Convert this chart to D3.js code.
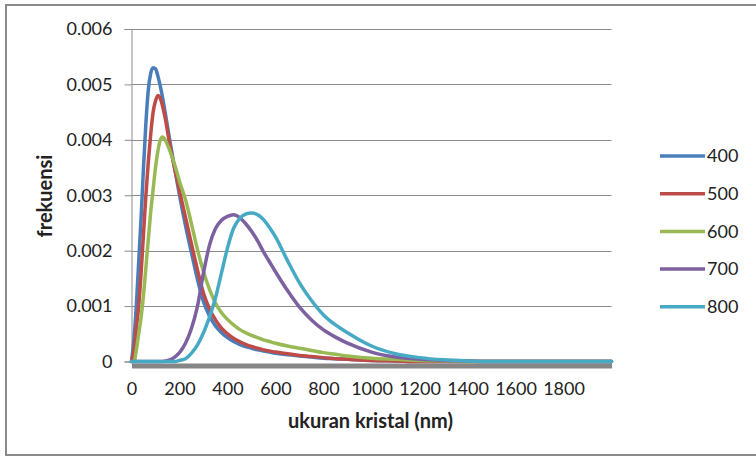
<!DOCTYPE html>
<html>
<head>
<meta charset="utf-8">
<script src="https://cdn.jsdelivr.net/npm/d3@7"></script>
<style>
  body { margin: 0; background: #ffffff; }
  svg { display: block; }
  text { font-family: Lato, "Open Sans", sans-serif; fill: #222; }
</style>
</head>
<body>
<svg id="chart" width="756" height="457"></svg>
<script>
// Crystal size grid (nm)
const sizes = [0,10,20,30,40,50,60,70,80,90,100,110,120,130,140,160,180,200,
  225,250,275,300,325,350,375,400,425,450,475,500,525,550,575,600,
  650,700,750,800,850,900,1000,1100,1200,1300,1400,1500,1600,1700,1800,1900,2000];

// Frequency per size for each series
const freq400 = [0,.0004,.001,.0018,.0026,.0035,.0043,.0049,.0052,.0053,.00528,.00515,.00497,.00475,.0045,
  .00398,.00348,.003,
  .00245,.00196,.00148,.00108,.00082,.00064,.00052,.00043,.00036,.00031,.00027,.00024,.00021,.00019,.00017,.00015,
  .00012,.0001,.00008,.00006,.00005,.00004,
  .00002,.00001,0,0,0,0,0,0,0,0,0];
const freq500 = [0,.0002,.0006,.001,.0016,.0023,.003,.0036,.0041,.0045,.0047,.0048,.00475,.0046,.0044,
  .0039,.00348,.00308,
  .0026,.00212,.00165,.00123,.00095,.00075,.0006,.0005,.00042,.00036,.00031,.00027,.00024,.00021,.00019,.00017,
  .00014,.00011,.00009,.00007,.00005,.00004,
  .00002,.00001,0,0,0,0,0,0,0,0,0];
const freq600 = [0,0,.0002,.0005,.0008,.0012,.0017,.0022,.0027,.0031,.0035,.0038,.004,.00405,.004,
  .0038,.00355,.00325,
  .00292,.00248,.00202,.00162,.0013,.00105,.00088,.00076,.00066,.00058,.00052,.00047,.00043,.00039,.00036,.00033,
  .00028,.00024,.0002,.00016,.00013,.0001,
  .00006,.00004,.00002,.00001,0,0,0,0,0,0,0];
const freq700 = [0,0,0,0,0,0,0,0,0,0,0,0,0,0,.00001,
  .00003,.00008,.00016,
  .00033,.0006,.001,.0016,.0021,.0024,.00255,.00262,.00265,.0026,.00249,.00235,.00218,.00198,.0018,.00162,
  .00128,.00098,.00075,.00057,.00044,.00033,
  .00017,.00008,.00004,.00002,.00001,0,0,0,0,0,0];
const freq800 = [0,0,0,0,0,0,0,0,0,0,0,0,0,0,0,
  0,0,.00002,
  .00005,.00015,.0003,.00052,.0008,.00115,.0016,.00205,.0024,.00258,.00266,.00268,.00265,.00256,.00242,.00225,
  .00182,.00142,.0011,.00084,.00066,.00052,
  .00028,.00014,.00007,.00003,.00001,0,0,0,0,0,0];

const seriesNames = ["400","500","600","700","800"];
const seriesValues = [freq400, freq500, freq600, freq700, freq800];
const seriesColors = ["#4a7ebb","#be4b48","#98b954","#7d60a0","#46aac5"];

const yTicks = [0,0.001,0.002,0.003,0.004,0.005,0.006];
const xTicks = [0,200,400,600,800,1000,1200,1400,1600,1800];

const svg = d3.select("#chart");

// outer frame
svg.append("rect")
  .attr("x", 6).attr("y", 5).attr("width", 756).attr("height", 450)
  .attr("fill", "none").attr("stroke", "#8a8a8a").attr("stroke-width", 2);

const x = d3.scaleLinear().domain([0, 2000]).range([131.5, 611.5]);
const y = d3.scaleLinear().domain([0, 0.006]).range([361.5, 29]);

// horizontal gridlines
svg.append("g").selectAll("line")
  .data(yTicks.filter(d => d > 0))
  .join("line")
  .attr("x1", x(0)).attr("x2", x(2000))
  .attr("y1", d => Math.round(y(d)) + 0.5).attr("y2", d => Math.round(y(d)) + 0.5)
  .attr("stroke", "#8c8c8c").attr("stroke-width", 1);

// y axis
const yAxis = svg.append("g")
  .attr("transform", `translate(${x(0)},0)`)
  .call(d3.axisLeft(y).tickValues(yTicks).tickSize(7).tickPadding(12)
    .tickFormat(d => d === 0 ? "0" : d3.format(".3f")(d)));
yAxis.select(".domain").attr("stroke", "#8c8c8c");
yAxis.selectAll(".tick line").attr("stroke", "#8c8c8c");
yAxis.selectAll(".tick text")
  .attr("font-size", 18).attr("font-family", "Lato, sans-serif").attr("fill", "#222");

// x axis (thick baseline)
const xAxis = svg.append("g")
  .attr("transform", `translate(0,365.5)`)
  .call(d3.axisBottom(x).tickValues(xTicks).tickSize(0).tickPadding(17)
    .tickFormat(d3.format("d")));
xAxis.select(".domain").attr("stroke", "#868686").attr("stroke-width", 5);
xAxis.selectAll(".tick text")
  .attr("font-size", 18).attr("font-family", "Lato, sans-serif").attr("fill", "#222");

// series lines
const line = d3.line()
  .x((d, i) => x(sizes[i]))
  .y(d => y(d))
  .curve(d3.curveMonotoneX);

svg.append("g").selectAll("path")
  .data(seriesValues)
  .join("path")
  .attr("d", d => line(d))
  .attr("fill", "none")
  .attr("stroke", (d, i) => seriesColors[i])
  .attr("stroke-width", 3.5)
  .attr("stroke-linejoin", "round")
  .attr("stroke-linecap", "round");

// axis titles
svg.append("text")
  .attr("x", 370.5).attr("y", 428)
  .attr("text-anchor", "middle")
  .attr("font-size", 20).attr("font-weight", "bold")
  .text("ukuran kristal (nm)");

svg.append("text")
  .attr("transform", "translate(52,196) rotate(-90)")
  .attr("text-anchor", "middle")
  .attr("font-size", 20).attr("font-weight", "bold")
  .text("frekuensi");

// legend
const legend = svg.append("g").selectAll("g")
  .data(seriesNames)
  .join("g")
  .attr("transform", (d, i) => `translate(660,${156 + i * 37.7})`);
legend.append("line")
  .attr("x1", 0).attr("x2", 45)
  .attr("stroke", (d, i) => seriesColors[i])
  .attr("stroke-width", 3.5);
legend.append("text")
  .attr("x", 47).attr("dy", "0.35em")
  .attr("font-size", 18)
  .text(d => d);
</script>
</body>
</html>
